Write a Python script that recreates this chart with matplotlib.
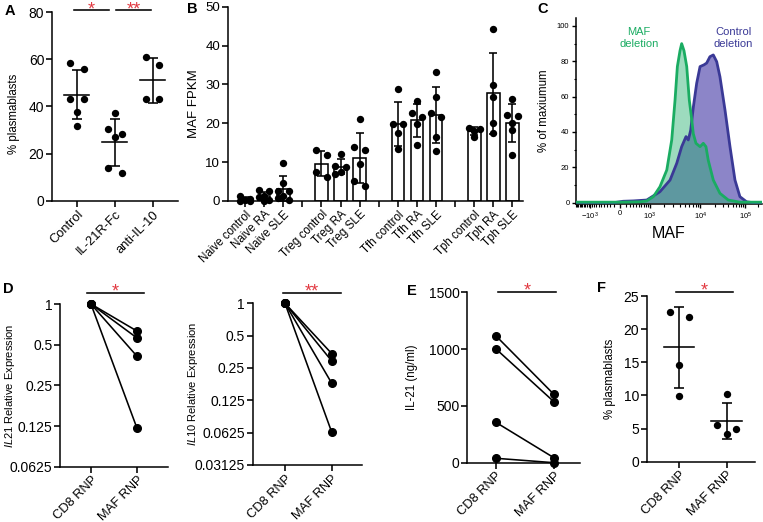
import numpy as np
import matplotlib
matplotlib.use('Agg')
import matplotlib.pyplot as plt
import matplotlib.transforms as mtransforms
from matplotlib.ticker import FixedLocator, FixedFormatter, NullFormatter

plt.rcParams['font.family'] = ['Liberation Sans', 'DejaVu Sans']
plt.rcParams['mathtext.fontset'] = 'custom'
plt.rcParams['mathtext.rm'] = 'Liberation Sans'
plt.rcParams['mathtext.it'] = 'Liberation Sans:italic'
plt.rcParams['axes.linewidth'] = 1.1

# ------------------------------------------------------------------ data
# Panel A
a_categories = ['Control', 'IL-21R-Fc', 'anti-IL-10']
a_control = [58.5, 56.0, 43.0, 43.0, 37.5, 31.7]
a_il21rfc = [37.2, 30.5, 28.5, 27.0, 14.1, 11.8]
a_anti_il10 = [60.8, 57.6, 43.0, 43.0]
a_yticks = [0, 20, 40, 60, 80]

# Panel B
b_labels = ['Naive control', 'Naive RA', 'Naive SLE', '',
            'Treg control', 'Treg RA', 'Treg SLE', '',
            'Tfh control', 'Tfh RA', 'Tfh SLE', '',
            'Tph control', 'Tph RA', 'Tph SLE']
b_naive_control = [1.3, 0.5, 0.2, 0.1, 0.0]
b_naive_ra = [2.8, 2.5, 1.2, 1.0, 0.3, 0.0]
b_naive_sle = [9.9, 4.7, 2.7, 2.5, 1.2, 0.8, 0.3]
b_treg_control = [13.0, 11.9, 7.4, 6.3]
b_treg_ra = [12.1, 9.0, 8.8, 7.5, 6.9]
b_treg_sle = [21.2, 14.0, 13.0, 9.5, 5.2, 3.9]
b_tfh_control = [28.7, 19.8, 19.8, 17.4, 13.3]
b_tfh_ra = [25.8, 22.7, 21.5, 19.8, 14.3]
b_tfh_sle = [33.1, 26.7, 22.7, 21.5, 16.4, 12.9]
b_tph_control = [18.8, 18.5, 18.0, 16.4]
b_tph_ra = [44.2, 29.9, 26.8, 20.1, 17.6]
b_tph_sle = [26.2, 22.1, 21.9, 20.1, 18.3, 11.8]
b_yticks = [0, 10, 20, 30, 40, 50]

# Panel C (MAF intensity vs % of maximum)
c_maf_del_x = [-2000, 0, 546, 845, 1208, 1656, 2253, 2793, 3222, 3564, 3998,
               4298, 4755, 5366, 6015, 6705, 7200, 8130, 9810, 11430, 12960,
               14475, 18500, 25800, 39700, 74000, 255000]
c_maf_del_y = [0.3, 0.3, 0.5, 1.0, 3.4, 9.0, 18.5, 35.5, 58, 77, 86,
               90, 86, 77, 58, 47, 39, 33.6, 31.7, 33.6, 31.7,
               24, 12.8, 5.3, 1.5, 0.3, 0.3]
c_ctrl_del_x = [-2000, -100, 36, 300, 845, 1656, 2597, 3470, 4298, 5200,
                5750, 6400, 7200, 8400, 9810, 11800, 13400, 15700, 18500,
                21900, 25800, 33400, 43400, 56600, 74000, 107000, 152700, 255000]
c_ctrl_del_y = [0, 0, 0.8, 1.0, 1.5, 6.2, 12.8, 22.3, 31.7, 37.4,
                35.5, 41, 54, 67.6, 77, 78, 79, 82.6, 83.6,
                79.8, 71.3, 52.5, 31.7, 12.8, 3.4, 0.5, 0, 0]
c_yticks = [0, 20, 40, 60, 80, 100]
c_xticks = [-1000, 0, 1000, 10000, 100000]
c_xticklabels = ['$-10^3$', '0', '$10^3$', '$10^4$', '$10^5$']

# Panels D-F
rnp_groups = ['CD8 RNP', 'MAF RNP']
d_il21_cd8 = [1, 1, 1, 1]
d_il21_maf = [0.63, 0.56, 0.41, 0.12]
d_il21_ticks = [0.0625, 0.125, 0.25, 0.5, 1]
d_il21_ticklabels = ['0.0625', '0.125', '0.25', '0.5', '1']
d_il10_cd8 = [1, 1, 1, 1]
d_il10_maf = [0.34, 0.29, 0.18, 0.063]
d_il10_ticks = [0.03125, 0.0625, 0.125, 0.25, 0.5, 1]
d_il10_ticklabels = ['0.03125', '0.0625', '0.125', '0.25', '0.5', '1']
e_il21_cd8 = [1118, 1003, 356, 39]
e_il21_maf = [602, 537, 44, 0]
e_yticks = [0, 500, 1000, 1500]
f_cd8 = [22.6, 21.9, 14.6, 9.9]
f_maf = [10.2, 5.5, 4.9, 4.2]
f_yticks = [0, 5, 10, 15, 20, 25]

# ------------------------------------------------------------------ style
RED = '#e23a42'
GREEN = '#1aac62'
GREEN_FILL = '#27b070'
BLUE = '#3a3996'
BLUE_FILL = '#8c85c8'
LW = 1.15
DOT = 28
TICK_FS = 10
CAT_FS = 9.3
LAB_FS = 8.3

W, H = 763, 522
fig = plt.figure(figsize=(W / 100, H / 100), dpi=100)


def ax_at(l, t, r, b):
    return fig.add_axes([l / W, 1 - b / H, (r - l) / W, (b - t) / H])


def style(ax, fs=TICK_FS):
    for s in ('top', 'right'):
        ax.spines[s].set_visible(False)
    ax.tick_params(direction='out', length=4, width=LW, labelsize=fs, pad=1.5)


def swarm_offsets(vals, tol, step):
    vals = np.asarray(vals, float)
    order = np.argsort(-vals, kind='stable')
    offs = np.zeros(len(vals))
    clusters, cur = [], []
    for i in order:
        if cur and abs(vals[cur[-1]] - vals[i]) <= tol:
            cur.append(i)
        else:
            if cur:
                clusters.append(cur)
            cur = [i]
    clusters.append(cur)
    for c in clusters:
        n = len(c)
        pat = [0] if n == 1 else ([-1, 1] if n == 2 else ([-1, 1, 0] * n)[:n])
        for k, i in enumerate(c):
            offs[i] = pat[k] * step
    return offs


def dots_mean_sd(ax, pos, vals, tol, step, half, cap):
    vals = np.asarray(vals, float)
    x = pos + swarm_offsets(vals, tol, step)
    ax.scatter(x, vals, s=DOT, color='black', zorder=3, clip_on=False, linewidths=0)
    m, sd = vals.mean(), vals.std(ddof=1)
    ax.errorbar(pos, m, yerr=sd, fmt='none', ecolor='black', elinewidth=LW,
                capsize=cap, capthick=LW)
    ax.plot([pos - half, pos + half], [m, m], color='black', lw=LW)


def sig_bar(ax, x0, x1, yfrac, label):
    tr = mtransforms.blended_transform_factory(ax.transData, ax.transAxes)
    ax.plot([x0, x1], [yfrac, yfrac], color='black', lw=LW, transform=tr, clip_on=False)
    trt = mtransforms.offset_copy(tr, fig=fig, x=0, y=-4, units='dots')
    ax.text((x0 + x1) / 2, yfrac, label, transform=trt, ha='center', va='baseline',
            color=RED, fontsize=13)


def cat_labels(ax, positions, labels, fs=CAT_FS):
    ax.set_xticks(positions)
    ax.set_xticklabels(labels, rotation=45, ha='right', rotation_mode='anchor', fontsize=fs)


# ------------------------------------------------------------------ panel A
axA = ax_at(52, 12, 178, 201)
style(axA)
for i, vals in enumerate([a_control, a_il21rfc, a_anti_il10]):
    dots_mean_sd(axA, i, vals, tol=3.2, step=0.18, half=0.33, cap=3.6)
axA.set_xlim(-0.66, 2.67)
axA.set_ylim(0, 80)
axA.set_yticks(a_yticks)
cat_labels(axA, range(3), a_categories)
axA.set_ylabel('% plasmablasts', fontsize=LAB_FS)
axA.yaxis.set_label_coords(-0.25, 0.46)
sig_bar(axA, -0.08, 0.85, 1.0106, '*')
sig_bar(axA, 1.03, 1.96, 1.0106, '**')

# ------------------------------------------------------------------ panel B
axB = ax_at(227.7, 6.7, 523, 201)
style(axB, fs=9.5)
b_groups = [b_naive_control, b_naive_ra, b_naive_sle, None,
            b_treg_control, b_treg_ra, b_treg_sle, None,
            b_tfh_control, b_tfh_ra, b_tfh_sle, None,
            b_tph_control, b_tph_ra, b_tph_sle]
for i, vals in enumerate(b_groups):
    if vals is None:
        continue
    v = np.asarray(vals, float)
    m, sd = v.mean(), v.std(ddof=1)
    axB.bar(i, m, width=0.66, color='white', edgecolor='black', linewidth=LW, zorder=1)
    axB.errorbar(i, m, yerr=sd, fmt='none', ecolor='black', elinewidth=LW,
                 capsize=2.6, capthick=LW, zorder=2)
    x = i + swarm_offsets(v, 1.6, 0.28)
    axB.scatter(x, v, s=DOT, color='black', zorder=3, clip_on=False, linewidths=0)
axB.set_xlim(-0.906, 14.55)
axB.set_ylim(0, 50)
axB.set_yticks(b_yticks)
cat_labels(axB, range(len(b_labels)), b_labels, fs=8.3)
axB.set_ylabel('MAF FPKM', fontsize=9.5)
axB.yaxis.set_label_coords(-0.094, 0.5)

# ------------------------------------------------------------------ panel C
axC = ax_at(575.7, 18, 761.7, 204.1)
for s in ('top', 'right'):
    axC.spines[s].set_visible(False)
LIN, PW = 1500.0, 0.7


def c_fwd(x):
    v = np.arcsinh(np.asarray(x, float) / LIN)
    return np.sign(v) * np.abs(v) ** PW


def c_inv(y):
    y = np.asarray(y, float)
    return LIN * np.sinh(np.sign(y) * np.abs(y) ** (1 / PW))


axC.set_xscale('function', functions=(c_fwd, c_inv))
axC.fill_between(c_ctrl_del_x, c_ctrl_del_y, 0, color=BLUE_FILL, lw=0, zorder=1)
axC.fill_between(c_maf_del_x, c_maf_del_y, 0, color=GREEN_FILL, alpha=0.45, lw=0, zorder=2)
axC.plot(c_ctrl_del_x, c_ctrl_del_y, color=BLUE, lw=2.0, zorder=3)
axC.plot(c_maf_del_x, c_maf_del_y, color=GREEN, lw=2.0, zorder=4)
axC.set_xlim(-2028, 255000)
axC.set_ylim(-0.8, 104.5)
axC.set_yticks(c_yticks)
axC.yaxis.set_minor_locator(FixedLocator(np.arange(10, 100, 20)))
axC.xaxis.set_major_locator(FixedLocator(c_xticks))
axC.xaxis.set_major_formatter(FixedFormatter(c_xticklabels))
minor = list(np.arange(-2000, -1000, 100)) + list(np.arange(-900, 0, 100)) + \
    list(np.arange(100, 1000, 100)) + list(np.arange(2000, 10000, 1000)) + \
    list(np.arange(20000, 100000, 10000)) + [200000]
axC.xaxis.set_minor_locator(FixedLocator(minor))
axC.xaxis.set_minor_formatter(NullFormatter())
axC.tick_params(which='major', direction='out', length=3, width=1.0, labelsize=5.5, pad=1.5)
axC.tick_params(which='minor', direction='out', length=1.8, width=0.8)
axC.set_ylabel('% of maxiumum', fontsize=LAB_FS)
axC.yaxis.set_label_coords(-0.138, 0.5)
axC.set_xlabel('MAF', fontsize=11.5, labelpad=3)
axC.text(0.34, 0.895, 'MAF\ndeletion', transform=axC.transAxes, ha='center', va='center',
         color=GREEN, fontsize=8, linespacing=1.25)
axC.text(0.846, 0.895, 'Control\ndeletion', transform=axC.transAxes, ha='center', va='center',
         color=BLUE, fontsize=8, linespacing=1.25)


# ------------------------------------------------------------------ panels D
def paired(ax, before, after):
    for b, a in zip(before, after):
        ax.plot([0, 1], [b, a], '-o', color='black', lw=LW, ms=5.5, clip_on=False, zorder=3)


axD1 = ax_at(60, 304, 168, 466.7)
style(axD1)
paired(axD1, d_il21_cd8, d_il21_maf)
axD1.set_yscale('log', base=2)
axD1.set_ylim(0.0625, 1)
axD1.yaxis.set_major_locator(FixedLocator(d_il21_ticks))
axD1.yaxis.set_major_formatter(FixedFormatter(d_il21_ticklabels))
axD1.yaxis.set_minor_locator(FixedLocator([]))
axD1.set_xlim(-0.67, 1.67)
cat_labels(axD1, [0, 1], rnp_groups)
axD1.set_ylabel(r'$\it{IL21}$ Relative Expression', fontsize=8)
axD1.yaxis.set_label_coords(-0.40, 0.5)
sig_bar(axD1, -0.09, 1.14, 1.069, '*')

axD2 = ax_at(252.7, 303.3, 361.7, 465)
style(axD2)
paired(axD2, d_il10_cd8, d_il10_maf)
axD2.set_yscale('log', base=2)
axD2.set_ylim(0.03125, 1)
axD2.yaxis.set_major_locator(FixedLocator(d_il10_ticks))
axD2.yaxis.set_major_formatter(FixedFormatter(d_il10_ticklabels))
axD2.yaxis.set_minor_locator(FixedLocator([]))
axD2.set_xlim(-0.69, 1.64)
cat_labels(axD2, [0, 1], rnp_groups)
axD2.set_ylabel(r'$\it{IL10}$ Relative Expression', fontsize=8)
axD2.yaxis.set_label_coords(-0.483, 0.5)
sig_bar(axD2, -0.05, 1.19, 1.066, '**')

# ------------------------------------------------------------------ panel E
axE = ax_at(467.3, 292.3, 580, 462.7)
style(axE)
paired(axE, e_il21_cd8, e_il21_maf)
axE.set_ylim(0, 1500)
axE.set_yticks(e_yticks)
axE.set_xlim(-0.49, 1.45)
cat_labels(axE, [0, 1], rnp_groups)
axE.set_ylabel('IL-21 (ng/ml)', fontsize=LAB_FS)
axE.yaxis.set_label_coords(-0.437, 0.5)
sig_bar(axE, 0.04, 1.03, 1.0035, '*')

# ------------------------------------------------------------------ panel F
axF = ax_at(646.7, 296, 755, 461.7)
style(axF)
for i, vals in enumerate([f_cd8, f_maf]):
    dots_mean_sd(axF, i, vals, tol=1.3, step=0.2, half=0.32, cap=3.8)
axF.set_ylim(0, 25)
axF.set_yticks(f_yticks)
axF.set_xlim(-0.69, 1.60)
cat_labels(axF, [0, 1], rnp_groups)
axF.set_ylabel('% plasmablasts', fontsize=LAB_FS)
axF.yaxis.set_label_coords(-0.283, 0.5)
sig_bar(axF, -0.07, 1.14, 1.026, '*')

# ------------------------------------------------------------------ panel letters
for letter, (px, py) in zip('ABCDEF', [(10, 11), (192.7, 9.3), (543, 9), (8, 289),
                                       (411.7, 290.7), (601.7, 288)]):
    fig.text(px / W, 1 - py / H, letter, fontsize=10.5, fontweight='bold',
             ha='center', va='center')

fig.savefig('out.png', dpi=100)
